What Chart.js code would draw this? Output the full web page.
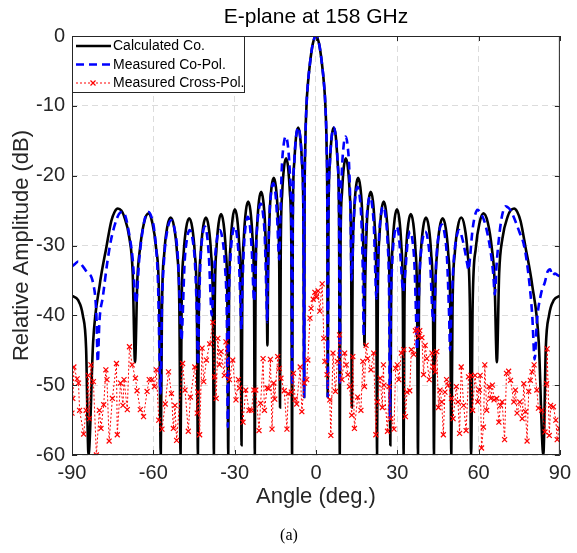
<!DOCTYPE html>
<html>
<head>
  <meta charset="utf-8">
  <title>E-plane at 158 GHz</title>
  <style>
    body { margin: 0; background: #fff; }
    #wrap { width: 577px; height: 553px; }
  </style>
</head>
<body>
  <div id="wrap"><canvas id="chart" width="577" height="553"></canvas></div>
  <script src="https://cdn.jsdelivr.net/npm/chart.js"></script>
  <script>
    // ticks
    const xTicks = [-90, -60, -30, 0, 30, 60, 90];
    const yTicks = [0, -10, -20, -30, -40, -50, -60];

    // calculated co-pol (angle in deg, level in dB)
    const calcAngle = [
      -90, -87.8, -86.0, -84.8, -83.9,
      -82.2, -79.8, -77.3, -75.5, -74.3, -73.1, -71.8, -70.8, -68.8, -67.6, -66.75,
      -65.9, -64.9, -63.4, -61.8, -60.4, -58.96, -57.82, -57.25,
      -56.81, -55.94, -54.84, -53.6, -52.36, -51.26, -50.39, -49.95,
      -49.57, -48.8, -47.84, -46.75, -45.66, -44.7, -43.93, -43.55,
      -43.2, -42.49, -41.6, -40.6, -39.6, -38.71, -38.0, -37.65,
      -37.33, -36.7, -35.9, -35.0, -34.1, -33.3, -32.67, -32.35,
      -32.06, -31.47, -30.73, -29.9, -29.07, -28.33, -27.74, -27.45,
      -27.16, -26.57, -25.83, -25.0, -24.17, -23.43, -22.84, -22.55,
      -22.27, -21.71, -21.02, -20.2, -19.43, -18.74, -18.18, -17.9,
      -17.62, -17.06, -16.37, -15.55, -14.78, -14.09, -13.53, -13.25,
      -12.98, -12.45, -11.78, -11.0, -10.27, -9.6, -9.07, -8.8,
      -8.53, -8.0, -7.33, -6.55, -5.82, -5.15, -4.62, -4.35,
      -4.2, -3.95, -3.5, -3.0, -2.2, -1.2, 0, 1.2, 2.2, 3.0, 3.5, 3.95, 4.2,
      4.35, 4.62, 5.15, 5.82, 6.55, 7.33, 8.0, 8.53,
      8.8, 9.07, 9.6, 10.27, 11.0, 11.78, 12.45, 12.98,
      13.25, 13.53, 14.09, 14.78, 15.55, 16.37, 17.06, 17.62,
      17.9, 18.18, 18.74, 19.43, 20.2, 21.02, 21.71, 22.27,
      22.55, 22.84, 23.43, 24.17, 25.0, 25.83, 26.57, 27.16,
      27.45, 27.74, 28.33, 29.07, 29.9, 30.73, 31.47, 32.06,
      32.35, 32.67, 33.3, 34.1, 35.0, 35.9, 36.7, 37.33,
      37.65, 38.0, 38.71, 39.6, 40.6, 41.6, 42.49, 43.2,
      43.55, 43.93, 44.7, 45.66, 46.75, 47.84, 48.8, 49.57,
      49.95, 50.39, 51.26, 52.36, 53.6, 54.84, 55.94, 56.81,
      57.25, 57.82, 58.96, 60.4, 61.8, 63.4, 64.9, 65.9,
      66.75, 67.6, 68.8, 70.8, 71.8, 73.1, 74.3, 75.5, 77.3, 79.8, 82.2,
      83.9, 84.8, 86.0, 87.8, 90
    ];
    const calcDb = [
      -37.2, -37.8, -40.0, -44.7, -60,
      -43.8, -35.7, -30.2, -26.5, -25.2, -24.7, -25.0, -25.8, -29, -34, -46.7,
      -35, -30.4, -26.7, -25.4, -26.7, -30.4, -38.4, -60,
      -39, -31, -27.3, -26, -27.3, -31, -39, -60,
      -39.1, -31.1, -27.4, -26.1, -27.4, -31.1, -39.1, -60,
      -39, -31, -27.3, -26, -27.3, -31, -39, -60,
      -38.5, -30.5, -26.8, -25.5, -26.8, -30.5, -38.5, -60,
      -37.8, -29.8, -26.1, -24.8, -26.1, -29.8, -37.8, -58.6,
      -36.7, -28.7, -25.0, -23.7, -25.0, -28.7, -36.7, -60,
      -35.3, -27.3, -23.6, -22.3, -23.6, -27.3, -35.3, -44.3,
      -33.3, -25.3, -21.6, -20.3, -21.6, -25.3, -33.3, -53.2,
      -30.5, -22.5, -18.8, -17.5, -18.8, -22.5, -30.5, -60,
      -26.1, -18.1, -14.4, -13.1, -14.4, -18.1, -26.1, -51.7,
      -25, -16, -10.1, -7, -3.9, -1.2, 0, -1.2, -3.9, -7, -10.1, -16, -25,
      -51.7, -26.1, -18.1, -14.4, -13.1, -14.4, -18.1, -26.1,
      -60, -30.5, -22.5, -18.8, -17.5, -18.8, -22.5, -30.5,
      -53.2, -33.3, -25.3, -21.6, -20.3, -21.6, -25.3, -33.3,
      -44.3, -35.3, -27.3, -23.6, -22.3, -23.6, -27.3, -35.3,
      -60, -36.7, -28.7, -25.0, -23.7, -25.0, -28.7, -36.7,
      -58.6, -37.8, -29.8, -26.1, -24.8, -26.1, -29.8, -37.8,
      -60, -38.5, -30.5, -26.8, -25.5, -26.8, -30.5, -38.5,
      -60, -39, -31, -27.3, -26, -27.3, -31, -39,
      -60, -39.1, -31.1, -27.4, -26.1, -27.4, -31.1, -39.1,
      -60, -39, -31, -27.3, -26, -27.3, -31, -39,
      -60, -38.4, -30.4, -26.7, -25.4, -26.7, -30.4, -35,
      -46.7, -34, -29, -25.8, -25.0, -24.7, -25.2, -26.5, -30.2, -35.7, -43.8,
      -60, -44.7, -40.0, -37.8, -37.2
    ];

    // measured co-pol
    const coAngle = [
      -90, -88.8, -87.7, -86.0, -84.5, -82.2, -81.0, -80.5,
      -79.9, -78.6, -77.0, -75.6, -73.3, -72.3, -71.3, -70.3, -69.3, -67.6, -66.4,
      -65.2, -63.8, -62.8, -61.8, -60.7, -59.6, -58.3, -57.3,
      -56.84, -55.91, -54.76, -53.45, -52.14, -50.99, -50.06, -49.6,
      -49.23, -48.5, -47.59, -46.55, -45.51, -44.6, -43.87, -43.5,
      -43.2, -42.6, -41.85, -41.0, -40.15, -39.4, -38.8, -38.5,
      -38.14, -37.42, -36.52, -35.5, -34.48, -33.58, -32.86, -32.5,
      -32.2, -31.6, -30.85, -30.0, -29.15, -28.4, -27.8, -27.5,
      -27.22, -26.65, -25.95, -25.15, -24.35, -23.65, -23.08, -22.8,
      -22.51, -21.94, -21.22, -20.4, -19.58, -18.86, -18.29, -18.0,
      -17.73, -17.19, -16.52, -15.75, -14.98, -14.31, -13.77, -13.5,
      -13.22, -12.65, -11.95, -11.15, -10.35, -9.65, -9.08, -8.8,
      -8.53, -8.0, -7.33, -6.55, -5.82, -5.15, -4.62, -4.35,
      -4.2, -3.95, -3.5, -3.0, -2.2, -1.2, 0, 1.2, 2.2, 3.0, 3.5, 3.95, 4.2,
      4.35, 4.62, 5.15, 5.82, 6.55, 7.33, 8.0, 8.53,
      8.8, 9.06, 9.57, 10.22, 10.95, 11.68, 12.33, 12.84,
      13.1, 13.37, 13.91, 14.59, 15.35, 16.12, 16.79, 17.33,
      17.6, 17.88, 18.45, 19.15, 19.95, 20.75, 21.45, 22.02,
      22.3, 22.6, 23.2, 23.95, 24.8, 25.65, 26.4, 27.0,
      27.3, 27.59, 28.18, 28.92, 29.75, 30.58, 31.32, 31.91,
      32.2, 32.5, 33.12, 33.88, 34.75, 35.62, 36.38, 37.0,
      37.3, 37.66, 38.38, 39.28, 40.3, 41.32, 42.22, 42.94,
      43.3, 43.67, 44.42, 45.35, 46.4, 47.45, 48.38, 49.13,
      49.5, 49.91, 50.72, 51.74, 52.9, 54.06, 55.08, 55.89,
      56.3, 56.9, 57.7, 58.5, 59.6, 61.0, 62.5, 64.5, 65.4,
      66.0, 66.6, 67.8, 68.8, 70.0, 71.3, 72.5, 75.0, 76.9, 78.5, 79.8,
      80.7, 81.5, 83.0, 84.5, 85.4, 86.4, 87.2, 88.2, 89.0, 90
    ];
    const coDb = [
      -33.0, -32.6, -32.3, -33.0, -33.8, -35.4, -40, -46.7,
      -41, -37.3, -32.5, -29.2, -26.0, -25.3, -25.2, -25.8, -27.5, -32, -38.3,
      -32, -27.5, -25.7, -25.2, -25.9, -28, -35, -51.2,
      -39.4, -31.4, -27.7, -26.4, -27.7, -31.4, -39.4, -43.6,
      -40.8, -32.8, -29.1, -27.8, -29.1, -32.8, -40.8, -47.1,
      -40.3, -32.3, -28.6, -27.3, -28.6, -32.3, -38, -40,
      -38.5, -32.8, -29.1, -27.8, -29.1, -32.8, -40.8, -56,
      -40.3, -32.3, -28.6, -27.3, -28.6, -32.3, -39, -42,
      -37.5, -30.9, -27.2, -25.9, -27.2, -30.9, -36.5, -38,
      -36.5, -29, -25.3, -24, -25.3, -29, -37, -41,
      -34.1, -26.1, -22.4, -21.1, -22.4, -26.1, -31, -32,
      -27.4, -19.4, -15.7, -14.4, -15.7, -19.4, -27.4, -50,
      -26.1, -18.1, -14.4, -13.1, -14.4, -18.1, -26.1, -51.7,
      -25, -16, -10.1, -7, -3.9, -1.2, 0, -1.2, -3.9, -7, -10.1, -16, -25,
      -51.7, -26.1, -18.1, -14.4, -13.1, -14.4, -18.1, -26.1,
      -50, -27.4, -19.4, -15.7, -14.4, -15.7, -19.4, -27.4,
      -35, -33.5, -26.6, -22.9, -21.6, -22.9, -26.6, -34.6,
      -43, -36, -28, -24.3, -23, -24.3, -28, -35.5,
      -37.6, -36.5, -29.4, -25.7, -24.4, -25.7, -29.4, -37.4,
      -54.8, -40.3, -32.3, -28.6, -27.3, -28.6, -32.3, -35.8,
      -36.6, -35.8, -33, -29.3, -28, -29.3, -33, -41,
      -45, -41, -33, -29.3, -28, -29.3, -33, -39.5,
      -40.9, -39.5, -32, -28.3, -27, -28.3, -32, -40,
      -45, -40, -32.8, -29.1, -27.8, -29.1, -31, -32.8,
      -33.5, -31.5, -28, -26, -24.9, -25.5, -27, -31, -34,
      -37, -33, -28, -25.5, -24.4, -24.7, -25.5, -28, -30.2, -34.5, -40,
      -46.3, -41, -37, -35.2, -33.8, -33.4, -34.3, -34.0, -34.2, -34.4
    ];

    // measured cross-pol
    const crossAngle = [
      -90.0, -89.7, -89.3, -88.1, -87.6, -87.2, -85.7, -84.8, -84.0, -83.6, -83.0, -82.1, -81.0,
      -79.9, -79.3, -78.3, -77.5, -77.1, -76.3, -75.1, -73.6, -73.3, -72.1, -71.2, -70.8,
      -69.6, -68.8, -67.8, -66.6, -66.0, -64.8, -63.6, -62.3, -61.5, -60.5,
      -59.6, -58.9, -58.0, -56.8, -55.6, -54.4, -53.3, -52.6, -52.0, -51.4,
      -49.2, -48.3, -47.1, -46.3, -44.7, -43.8, -43.5, -42.9, -42.0, -41.4, -40.4,
      -39.2, -38.0, -37.4, -36.8, -36.2, -35.6, -35.0, -33.8, -33.2, -31.9, -30.7,
      -29.5, -28.6, -28.1, -26.9, -25.9, -24.7, -23.8, -22.9, -22.2, -21.0, -20.4,
      -19.5, -19.0, -18.0, -17.4, -16.8, -16.2, -15.6, -15.2, -14.1, -13.5, -12.9,
      -11.7, -10.7, -10.2, -9.1, -8.3, -7.7, -7.1, -5.8, -5.2, -4.3, -3.4, -3.0,
      -2.2, -1.8, -1.0, -0.4, 0.2, 0.8, 1.4, 2.3, 2.9, 3.3, 4.1, 5.1, 5.5,
      6.3, 7.2, 7.9, 8.7, 9.6, 10.6, 11.2, 11.8, 12.4, 13.2, 13.6, 14.2,
      15.4, 16.6, 17.3, 17.9, 18.5, 19.1, 20.3, 21.3, 22.1, 22.7, 23.7,
      24.5, 24.9, 25.1, 26.4, 27.0, 27.6, 28.8, 29.4, 30.0, 30.6, 31.5,
      32.4, 33.0, 33.6, 34.6, 35.2, 36.1, 36.7, 37.3, 37.9, 38.3, 39.1,
      39.7, 40.3, 40.9, 41.8, 42.8, 43.4, 44.0, 44.6, 45.2, 45.8, 46.4,
      47.0, 47.6, 48.2, 48.8, 50.0, 50.6, 51.8, 52.4, 53.0, 53.6, 54.5,
      55.4, 56.3, 57.2, 57.8, 58.7, 59.7, 60.3, 60.6, 61.1, 61.8, 62.3,
      63.0, 63.9, 64.5, 65.1, 65.7, 66.7, 67.5, 68.1, 68.7, 69.6, 70.3,
      71.1, 71.8, 73.0, 73.6, 74.2, 75.2, 76.1, 76.7, 77.3, 77.9, 78.5,
      79.1, 79.7, 80.5, 81.5, 82.1, 83.3, 84.5, 85.1, 85.3, 86.1, 86.6,
      87.6, 88.5, 89.0, 89.8
    ];
    const crossDb = [
      -54.0, -51.9, -47.4, -49.1, -49.7, -53.6, -57.0, -53.6, -48.6, -54.8, -47.1, -49.5, -60.0,
      -53.6, -56.2, -52.8, -47.8, -49.2, -58.0, -51.9, -46.9, -57.1, -49.7, -52.9, -49.2,
      -53.5, -44.5, -47.1, -49.0, -50.8, -53.5, -54.5, -50.9, -49.2, -49.2,
      -50.2, -47.8, -55.0, -56.3, -52.7, -48.1, -51.2, -56.2, -52.9, -57.9,
      -46.9, -50.7, -56.6, -51.7, -47.4, -54.0, -51.0, -57.1, -44.7, -49.5, -46.4,
      -44.1, -41.0, -48.8, -51.9, -43.3, -47.1, -45.2, -48.6, -43.8, -49.2, -46.4,
      -52.1, -49.2, -50.4, -55.3, -50.7, -53.6, -53.6, -50.7, -50.7, -56.5, -52.6,
      -46.2, -53.6, -50.4, -50.5, -46.3, -56.3, -49.7, -52.0, -45.9, -47.6, -49.0,
      -50.8, -56.3, -51.2, -51.0, -48.3, -52.0, -52.7, -47.4, -53.8, -49.7, -49.2, -46.4,
      -40.4, -39.0, -37.7, -36.7, -37.4, -36.5, -39.4, -35.5, -43.3, -46.6, -48.5, -52.1, -57.2,
      -45.4, -50.9, -46.6, -42.8, -49.2, -45.4, -47.1, -48.5, -50.2, -54.3, -45.9, -56.2,
      -51.7, -53.6, -46.6, -50.2, -44.3, -46.2, -47.8, -45.4, -57.1, -52.4, -49.0,
      -53.2, -47.1, -50.0, -56.6, -50.2, -54.8, -56.3, -47.6, -47.1, -49.2, -45.4,
      -44.9, -54.5, -51.0, -50.8, -44.9, -45.6, -42.2, -42.0, -43.0, -42.2, -43.2,
      -48.5, -44.3, -46.2, -49.2, -45.4, -47.4, -48.1, -45.2, -53.2, -50.7, -52.4,
      -57.1, -51.0, -49.2, -50.0, -51.9, -54.8, -50.2, -52.4, -56.9, -47.4, -52.9,
      -56.5, -48.8, -48.6, -53.6, -48.6, -52.4, -50.7, -48.6, -59.0, -56.0, -47.1,
      -53.6, -50.2, -51.9, -50.0, -52.1, -51.9, -55.3, -52.9, -52.4, -57.8, -48.3,
      -48.0, -49.3, -52.4, -50.7, -54.0, -52.4, -54.8, -49.8, -53.8, -58.0, -50.9,
      -49.3, -48.1, -47.1, -50.7, -53.3, -53.6, -56.7, -49.8, -44.8, -57.2, -52.9,
      -53.1, -55.0, -57.8, -56.2
    ];

    const seriesNames = ['Calculated Co.', 'Measured Co-Pol.', 'Measured Cross-Pol.'];
    const FONT = "'Liberation Sans', Arial, Helvetica, sans-serif";
    const AXIS = '#262626';

    const toXY = (xs, ys) => xs.map((v, i) => ({ x: v, y: ys[i] }));

    // box, inner ticks, title, caption and legend (MATLAB look)
    const frame = {
      id: 'frame',
      afterDraw(chart) {
        const { ctx, chartArea: a, scales } = chart;
        ctx.save();
        ctx.setLineDash([]);
        ctx.strokeStyle = AXIS;
        ctx.lineWidth = 1;
        ctx.strokeRect(a.left + 0.5, a.top + 0.5, a.right - a.left - 1, a.bottom - a.top - 1);
        ctx.beginPath();
        xTicks.forEach(v => {
          const px = Math.round(scales.x.getPixelForValue(v)) + 0.5;
          ctx.moveTo(px, a.bottom); ctx.lineTo(px, a.bottom - 5);
          ctx.moveTo(px, a.top); ctx.lineTo(px, a.top + 5);
        });
        yTicks.forEach(v => {
          const py = Math.round(scales.y.getPixelForValue(v)) + 0.5;
          ctx.moveTo(a.left, py); ctx.lineTo(a.left + 5, py);
          ctx.moveTo(a.right, py); ctx.lineTo(a.right - 5, py);
        });
        ctx.stroke();

        ctx.fillStyle = '#000';
        ctx.textAlign = 'center';
        ctx.textBaseline = 'middle';
        ctx.font = '21px ' + FONT;
        ctx.fillText('E-plane at 158 GHz', (a.left + a.right) / 2, 17);
        ctx.font = "16px 'Liberation Serif', 'Times New Roman', serif";
        ctx.fillText('(a)', 289, 536);

        // legend
        const lx = a.left + 0.5, ly = a.top + 0.5, lw = 172, lh = 56;
        ctx.fillStyle = '#fff';
        ctx.fillRect(lx, ly, lw, lh);
        ctx.strokeStyle = AXIS;
        ctx.strokeRect(lx, ly, lw, lh);
        const rows = [46, 64.5, 83];
        chart.data.datasets.forEach((ds, i) => {
          const y = rows[i];
          ctx.save();
          ctx.strokeStyle = ds.borderColor;
          ctx.lineWidth = ds.borderWidth;
          ctx.setLineDash(ds.borderDash || []);
          ctx.beginPath();
          ctx.moveTo(76, y); ctx.lineTo(111, y);
          ctx.stroke();
          if (ds.pointStyle === 'crossRot') {
            ctx.setLineDash([]);
            ctx.lineWidth = 1.2;
            ctx.beginPath();
            ctx.moveTo(90.5, y - 2.5); ctx.lineTo(95.5, y + 2.5);
            ctx.moveTo(90.5, y + 2.5); ctx.lineTo(95.5, y - 2.5);
            ctx.stroke();
          }
          ctx.restore();
          ctx.fillStyle = '#000';
          ctx.textAlign = 'left';
          ctx.font = '14px ' + FONT;
          ctx.fillText(ds.label, 113, y + 0.5);
        });
        ctx.restore();
      }
    };

    new Chart(document.getElementById('chart'), {
      type: 'line',
      data: {
        datasets: [
          {
            label: seriesNames[0],
            data: toXY(calcAngle, calcDb),
            borderColor: '#000000',
            borderWidth: 2.6,
            pointRadius: 0,
            cubicInterpolationMode: 'monotone',
            order: 3
          },
          {
            label: seriesNames[1],
            data: toXY(coAngle, coDb),
            borderColor: '#0000ff',
            borderWidth: 2.6,
            borderDash: [8, 5],
            pointRadius: 0,
            cubicInterpolationMode: 'monotone',
            order: 2
          },
          {
            label: seriesNames[2],
            data: toXY(crossAngle, crossDb),
            borderColor: '#ff0000',
            borderWidth: 1,
            borderDash: [2, 2],
            pointStyle: 'crossRot',
            pointRadius: 3.5,
            pointBorderWidth: 1.2,
            pointBorderColor: '#ff0000',
            tension: 0,
            order: 1
          }
        ]
      },
      options: {
        responsive: false,
        animation: false,
        layout: { autoPadding: false, padding: { top: 36, right: 11, bottom: 0, left: 0 } },
        plugins: { legend: { display: false }, tooltip: { enabled: false }, title: { display: false } },
        scales: {
          x: {
            type: 'linear',
            min: -90, max: 90,
            afterFit: s => { s.height = 98; },
            afterBuildTicks: s => { s.ticks = xTicks.map(v => ({ value: v })); },
            ticks: { color: AXIS, font: { family: FONT, size: 20 }, padding: 6, maxRotation: 0, callback: v => String(v) },
            grid: { color: '#dcdcdc', lineWidth: 1, drawTicks: false },
            border: { display: false, dash: [6, 4] },
            title: { display: true, text: 'Angle (deg.)', color: AXIS, font: { family: FONT, size: 22 }, padding: { top: 0, bottom: 43 } }
          },
          y: {
            type: 'linear',
            min: -60, max: 0,
            afterFit: s => { s.width = 72; },
            afterBuildTicks: s => { s.ticks = yTicks.map(v => ({ value: v })); },
            ticks: { color: AXIS, font: { family: FONT, size: 20 }, padding: 7, callback: v => String(v) },
            grid: { color: '#dcdcdc', lineWidth: 1, drawTicks: false },
            border: { display: false, dash: [6, 4] },
            title: { display: true, text: 'Relative Amplitude (dB)', color: AXIS, font: { family: FONT, size: 22 }, padding: { top: 9, bottom: 0 } }
          }
        }
      },
      plugins: [frame]
    });
  </script>
</body>
</html>
